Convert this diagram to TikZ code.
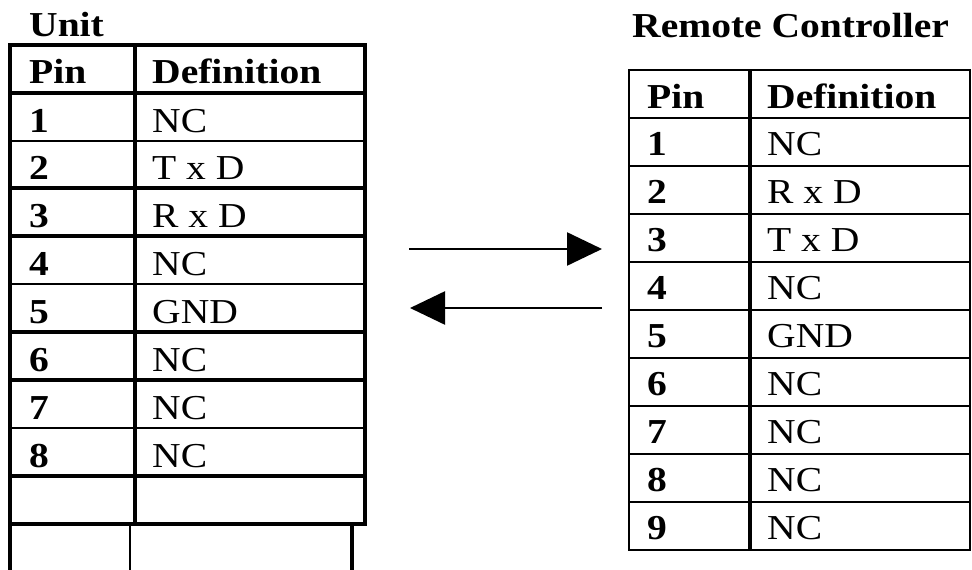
\documentclass[tikz,border=0pt]{standalone}
\usepackage{fontspec}
\setmainfont{Liberation Serif}[FakeStretch=1.13]
\usetikzlibrary{arrows.meta}
\begin{document}
\begin{tikzpicture}[x=1pt,y=-1pt,
 thickline/.style={line width=3.2pt, line cap=rect},
 thinline/.style={line width=1.8pt, line cap=rect},
 medline/.style={line width=2.7pt, line cap=rect},
 pintext/.style={anchor=base west, inner sep=0pt, font=\fontsize{35}{40}\selectfont\bfseries},
 deftext/.style={anchor=base west, inner sep=0pt, font=\fontsize{35}{40}\selectfont},
 titletext/.style={anchor=base west, inner sep=0pt, font=\fontsize{35}{40}\selectfont\bfseries},
 flow/.style={line width=2.5pt, -{Triangle[length=35pt,width=33pt]}}]
\useasboundingbox (0,0) rectangle (972,570);
% ---------- Unit table ----------
\node[titletext] (unittitle) at (29,36) {Unit};
\foreach \yy/\st in {45/thickline,93/thickline,141/thinline,188/thickline,236/thickline,284/thinline,332/thickline,380/thickline,428/thinline,476/thickline,524/thickline}
  \draw[\st] (10,\yy) -- (365,\yy);
\draw[thickline] (10,45) -- (10,570);
\draw[thickline] (135,45) -- (135,524);
\draw[thickline] (365,45) -- (365,524);
\draw[thinline] (130,524) -- (130,570);
\draw[thickline] (352,524) -- (352,570);
\node[pintext] (uph) at (29,83) {Pin};
\node[pintext] (udh) at (152,83) {Definition};
\foreach \i/\yy/\d in {1/132/NC,2/179/T x D,3/227/R x D,4/275/NC,5/323/GND,6/371/NC,7/419/NC,8/467/NC}{
  \node[pintext] (up\i) at (29,\yy) {\i};
  \node[deftext] (ud\i) at (152,\yy) {\d};
}
% ---------- Remote Controller table ----------
\node[titletext] (rctitle) at (632,37) {Remote Controller};
\foreach \yy in {70,118,166,214,262,310,358,406,454,502,550}
  \draw[medline] (629,\yy) -- (970,\yy);
\draw[medline] (629,70) -- (629,550);
\draw[thickline, line cap=butt] (750,70) -- (750,550);
\draw[medline] (970,70) -- (970,550);
\node[pintext] (rph) at (647,108) {Pin};
\node[pintext] (rdh) at (767,108) {Definition};
\foreach \i/\yy/\d in {1/155/NC,2/203/R x D,3/251/T x D,4/299/NC,5/347/GND,6/395/NC,7/443/NC,8/491/NC,9/539/NC}{
  \node[pintext] (rp\i) at (647,\yy) {\i};
  \node[deftext] (rd\i) at (767,\yy) {\d};
}
% ---------- arrows ----------
\coordinate (a1s) at (409,249);
\coordinate (a1e) at (602,249);
\coordinate (a2s) at (602,308);
\coordinate (a2e) at (410,308);
\draw[flow] (a1s) -- (a1e);
\draw[flow] (a2s) -- (a2e);
\end{tikzpicture}
\end{document}
